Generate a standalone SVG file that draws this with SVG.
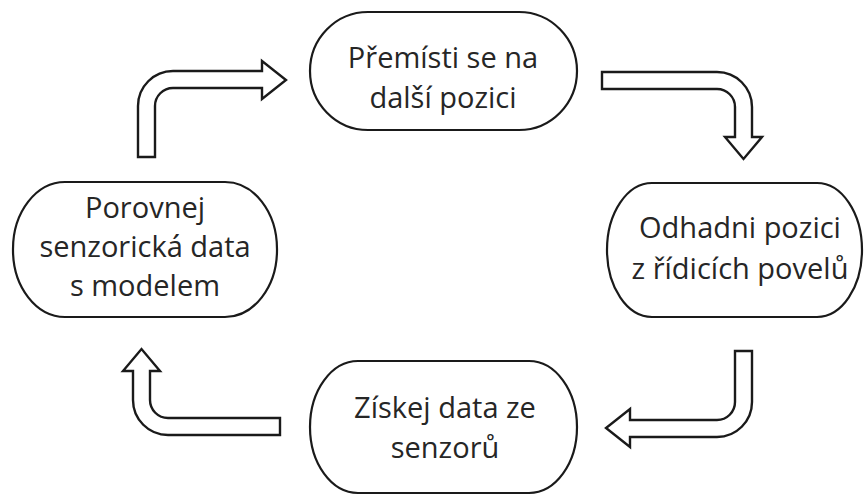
<svg xmlns="http://www.w3.org/2000/svg" width="864" height="495" viewBox="0 0 864 495">
<style>
.node{fill:#fff;stroke:#1a1a1a;stroke-width:2.2}
.arr{fill:#fff;stroke:#1a1a1a;stroke-width:2.4;stroke-linejoin:miter}
text{font-family:"Open Sans","Liberation Sans",sans-serif;font-size:29px;fill:#262626;text-anchor:middle}
</style>
<rect width="864" height="495" fill="#fff"/>
<g id="connectors">
<path class="arr" d="M138,157 L138,106 A35,35 0 0 1 173,71 L262,71 L262,61 L286,80 L262,99 L262,88 L173,88 A18,18 0 0 0 155,106 L155,157 Z"/>
<path class="arr" d="M602,72 L717,72 A35,35 0 0 1 752,107 L752,137 L762,137 L743.5,159 L725,137 L735,137 L735,107 A18,18 0 0 0 717,89 L602,89 Z"/>
<path class="arr" d="M735,351 L752,351 L752,402 A35,35 0 0 1 717,437 L630,437 L630,447 L606,428 L630,409 L630,420 L717,420 A18,18 0 0 0 735,402 Z"/>
<path class="arr" d="M280,418 L280,435 L168,435 A35,35 0 0 1 133,400 L133,371 L123,371 L141.5,349 L160,371 L150,371 L150,400 A18,18 0 0 0 168,418 Z"/>
</g>
<g id="move">
<rect class="node" x="310" y="12" width="267" height="118" rx="58" ry="59"/>
<text x="443" y="68">Přemísti se na</text>
<text x="443" y="108">další pozici</text>
</g>
<g id="estimate">
<rect class="node" x="607" y="183" width="255" height="134" rx="45" ry="67"/>
<text x="740" y="238">Odhadni pozici</text>
<text x="740" y="279">z řídicích povelů</text>
</g>
<g id="sense">
<rect class="node" x="310" y="361" width="267" height="132" rx="48" ry="66"/>
<text x="445" y="418">Získej data ze</text>
<text x="445" y="458">senzorů</text>
</g>
<g id="compare">
<rect class="node" x="13" y="182" width="264" height="135" rx="52" ry="67"/>
<text x="145" y="218">Porovnej</text>
<text x="145" y="257">senzorická data</text>
<text x="145" y="296">s modelem</text>
</g>
</svg>
